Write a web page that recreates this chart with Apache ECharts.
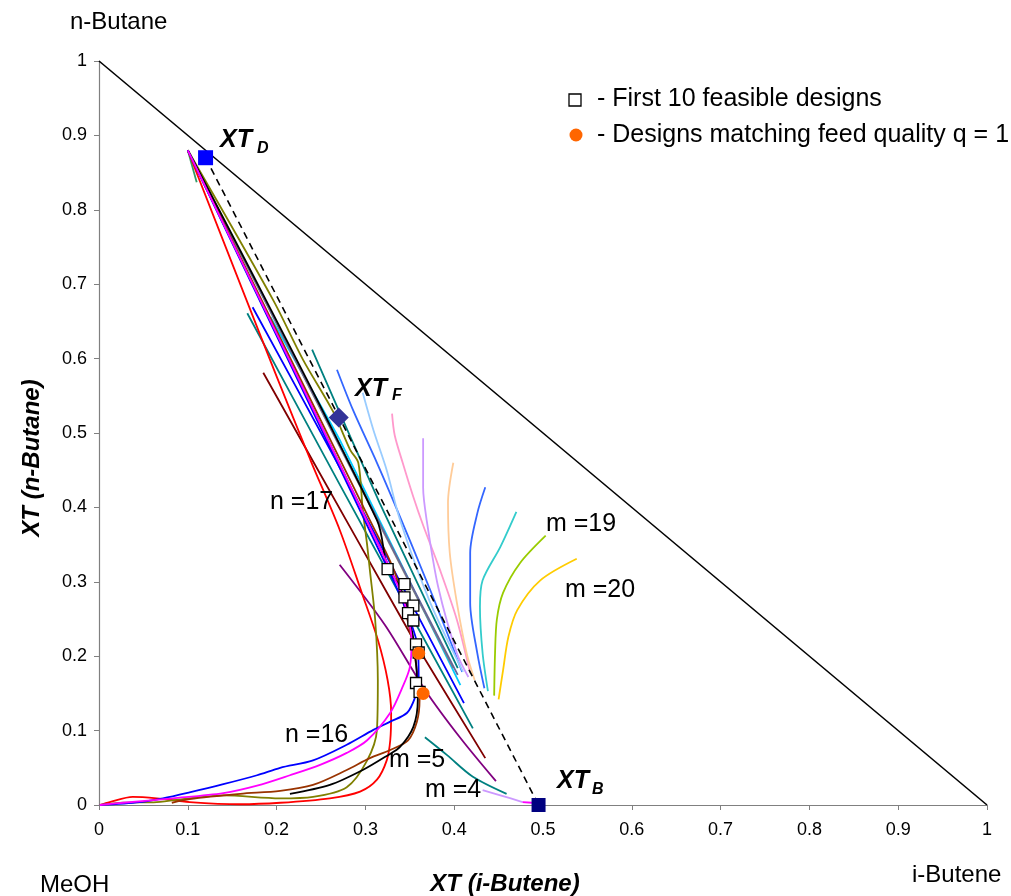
<!DOCTYPE html>
<html>
<head>
<meta charset="utf-8">
<script src="https://cdn.jsdelivr.net/npm/echarts/dist/echarts.min.js"></script>
<style>
  html, body { margin: 0; padding: 0; background: #fff; }
  #chart { width: 1011px; height: 896px; }
</style>
</head>
<body>
<div id="chart"></div>
<script>
// ---- Composition data (mole fractions on the reactive transformed triangle) ----
const axisTicks = [0, 0.1, 0.2, 0.3, 0.4, 0.5, 0.6, 0.7, 0.8, 0.9, 1];

const xtD = [0.12, 0.87];
const xtF = [0.27, 0.521];
const xtB = [0.495, 0.0];

// Designs found along the profile intersection
const feasibleDesigns = [
  [0.325, 0.317], [0.344, 0.297], [0.344, 0.279], [0.354, 0.268], [0.348, 0.258],
  [0.354, 0.248], [0.357, 0.216], [0.360, 0.205], [0.357, 0.164], [0.361, 0.152]
];
const feedQualityDesigns = [[0.360, 0.204], [0.365, 0.150]];

// Rectifying profiles that sweep back to the MeOH corner
const redProfile = [
  [0.100, 0.880], [0.166, 0.679], [0.200, 0.576], [0.238, 0.464], [0.271, 0.370],
  [0.296, 0.285], [0.314, 0.222], [0.325, 0.168], [0.329, 0.124], [0.328, 0.087],
  [0.324, 0.060], [0.313, 0.034], [0.294, 0.018], [0.260, 0.009], [0.204, 0.003],
  [0.159, 0.001], [0.102, 0.004], [0.065, 0.009], [0.038, 0.011], [0.012, 0.004], [0.001, 0.000]
];
const blueProfile = [
  [0.100, 0.880], [0.333, 0.298], [0.350, 0.249], [0.359, 0.212], [0.360, 0.168],
  [0.356, 0.145], [0.347, 0.124], [0.328, 0.112], [0.309, 0.101], [0.279, 0.081],
  [0.241, 0.060], [0.204, 0.050], [0.178, 0.040], [0.140, 0.028], [0.102, 0.017],
  [0.072, 0.009], [0.046, 0.004], [0.001, 0.000]
];
const magentaProfile = [
  [0.100, 0.880], [0.339, 0.289], [0.347, 0.258], [0.352, 0.222], [0.350, 0.185],
  [0.342, 0.159], [0.328, 0.124], [0.302, 0.087], [0.279, 0.070], [0.249, 0.054],
  [0.215, 0.040], [0.178, 0.026], [0.140, 0.016], [0.083, 0.009], [0.027, 0.003], [0.001, 0.000]
];
const brownProfile = [
  [0.100, 0.880], [0.305, 0.383], [0.333, 0.313], [0.350, 0.235], [0.358, 0.181],
  [0.361, 0.141], [0.358, 0.112], [0.348, 0.087], [0.328, 0.074], [0.305, 0.063],
  [0.279, 0.047], [0.241, 0.027], [0.204, 0.019], [0.159, 0.015], [0.102, 0.008], [0.082, 0.003]
];
const blackProfile = [
  [0.100, 0.880], [0.313, 0.383], [0.325, 0.317], [0.339, 0.293], [0.350, 0.249],
  [0.356, 0.204], [0.359, 0.141], [0.354, 0.105], [0.339, 0.078], [0.324, 0.066],
  [0.297, 0.047], [0.260, 0.027], [0.215, 0.015]
];
const oliveProfile = [
  [0.100, 0.880], [0.196, 0.679], [0.230, 0.598], [0.264, 0.528], [0.283, 0.477],
  [0.292, 0.460], [0.297, 0.397], [0.302, 0.349], [0.305, 0.316], [0.311, 0.249],
  [0.314, 0.168], [0.313, 0.101], [0.302, 0.060], [0.279, 0.024], [0.241, 0.011],
  [0.204, 0.009], [0.140, 0.013], [0.102, 0.009], [0.065, 0.004], [0.027, 0.003], [0.001, 0.000]
];

// Rectifying profiles ending in the design region
const violetBundle = [[0.100, 0.880], [0.343, 0.280], [0.354, 0.247]];
const slateBundle = [[0.100, 0.880], [0.404, 0.175]];
const grayBundle = [[0.100, 0.880], [0.399, 0.184]];
const greenStub = [[0.100, 0.880], [0.110, 0.837]];

// Partial profiles crossing the bundle
const tealLeft = [[0.167, 0.661], [0.271, 0.431], [0.421, 0.103]];
const blueLeft = [[0.173, 0.669], [0.271, 0.454], [0.411, 0.137]];
const cyanLeft = [[0.193, 0.656], [0.271, 0.491], [0.407, 0.161]];
const maroonLeft = [[0.185, 0.581], [0.291, 0.356], [0.361, 0.208], [0.435, 0.063]];
const tealRight = [[0.240, 0.612], [0.316, 0.406], [0.404, 0.184]];
const purpleLine = [[0.271, 0.323], [0.322, 0.242], [0.367, 0.155], [0.407, 0.090], [0.447, 0.032]];

// Stripping profiles (m stages)
const tealM5 = [[0.367, 0.091], [0.392, 0.067], [0.421, 0.038], [0.459, 0.015]];
const lilacM4 = [[0.432, 0.020], [0.452, 0.013], [0.477, 0.004]];
const magentaM4 = [[0.477, 0.004], [0.488, 0.003]];
const fanRoyal1 = [[0.268, 0.585], [0.286, 0.531], [0.313, 0.460], [0.331, 0.410], [0.373, 0.289], [0.409, 0.179]];
const fanLightBlue = [[0.297, 0.554], [0.309, 0.504], [0.324, 0.450], [0.339, 0.383], [0.373, 0.272], [0.410, 0.179]];
const fanPink = [[0.330, 0.526], [0.333, 0.497], [0.342, 0.460], [0.354, 0.414], [0.365, 0.376], [0.384, 0.316], [0.403, 0.249], [0.418, 0.177]];
const fanViolet = [[0.365, 0.493], [0.365, 0.427], [0.369, 0.383], [0.382, 0.293], [0.403, 0.204], [0.416, 0.172]];
const fanPeach = [[0.399, 0.460], [0.393, 0.406], [0.395, 0.339], [0.403, 0.272], [0.414, 0.204], [0.423, 0.168]];
const fanRoyal2 = [[0.435, 0.427], [0.426, 0.392], [0.418, 0.339], [0.418, 0.272], [0.426, 0.204], [0.434, 0.157]];
const fanTeal = [[0.470, 0.394], [0.452, 0.347], [0.432, 0.302], [0.429, 0.266], [0.432, 0.204], [0.438, 0.153]];
const fanGreen = [[0.503, 0.362], [0.474, 0.325], [0.455, 0.285], [0.448, 0.249], [0.446, 0.204], [0.445, 0.147]];
const fanGold = [[0.538, 0.331], [0.497, 0.302], [0.471, 0.262], [0.461, 0.226], [0.455, 0.181], [0.450, 0.142]];

// Triangle edge from pure n-Butane to pure i-Butene
const hypotenuse = [[0, 1], [1, 0]];

// ---- Chart ----
const FONT = '"Liberation Sans", Arial, sans-serif';

function curve(data, color, smooth) {
  return {
    type: 'line', data: data, symbol: 'none', showSymbol: false, silent: true,
    smooth: smooth === undefined ? 0.3 : smooth,
    lineStyle: { color: color, width: 1.8, opacity: 1 }, z: 2
  };
}

const series = [
  curve(fanRoyal1, '#3366FF'), curve(fanLightBlue, '#99CCFF'), curve(fanPink, '#FF99CC'),
  curve(fanViolet, '#CC99FF'), curve(fanPeach, '#FFCC99'), curve(fanRoyal2, '#3366FF'),
  curve(fanTeal, '#33CCCC'), curve(fanGreen, '#99CC00'), curve(fanGold, '#FFCC00'),
  curve(tealM5, '#008080'), curve(lilacM4, '#CC99FF'), curve(magentaM4, '#FF00FF'),
  curve(tealLeft, '#008080', 0.1), curve(blueLeft, '#0000FF', 0.1), curve(cyanLeft, '#00CCFF', 0.1),
  curve(maroonLeft, '#800000', 0.1), curve(tealRight, '#008080', 0.1), curve(purpleLine, '#800080'),
  curve(grayBundle, '#808080'), curve(slateBundle, '#666699'), curve(greenStub, '#339966'),
  curve(violetBundle, '#6600CC'),
  curve(redProfile, '#FF0000'), curve(oliveProfile, '#808000'), curve(brownProfile, '#993300'),
  curve(blackProfile, '#000000'), curve(blueProfile, '#0000FF'), curve(magentaProfile, '#FF00FF'),
  {
    type: 'line', data: [xtD, xtB], symbol: 'none', silent: true, z: 3,
    lineStyle: { color: '#000', width: 1.6, type: [7, 5] }
  },
  {
    type: 'line', data: hypotenuse, symbol: 'none', silent: true, z: 3,
    lineStyle: { color: '#000', width: 1.6 }
  },
  {
    type: 'scatter', data: feasibleDesigns, symbol: 'rect', symbolSize: 11, silent: true, z: 5,
    itemStyle: { color: '#fff', borderColor: '#000', borderWidth: 1.3, opacity: 1 }
  },
  {
    type: 'scatter', data: feedQualityDesigns, symbol: 'circle', symbolSize: 13, silent: true, z: 6,
    itemStyle: { color: '#FF6600', opacity: 1 }
  },
  { type: 'scatter', data: [xtD], symbol: 'rect', symbolSize: 15, silent: true, z: 6, itemStyle: { color: '#0000FF', opacity: 1 } },
  { type: 'scatter', data: [xtF], symbol: 'diamond', symbolSize: [20, 20], silent: true, z: 6, itemStyle: { color: '#333399', opacity: 1 } },
  { type: 'scatter', data: [xtB], symbol: 'rect', symbolSize: 14, silent: true, z: 6, itemStyle: { color: '#000080', opacity: 1 } }
];

function txt(text, x, y, size, extra) {
  return {
    type: 'text', x: x, y: y, z: 20, silent: true,
    style: Object.assign({
      text: text, font: size + 'px ' + FONT, fill: '#000',
      textAlign: 'left', textVerticalAlign: 'middle'
    }, extra || {})
  };
}
function bi(text, x, y, size, extra) {
  return txt(text, x, y, size, Object.assign({ font: 'italic bold ' + size + 'px ' + FONT }, extra || {}));
}

const graphics = [
  txt('n-Butane', 70, 22, 24),
  txt('MeOH', 40, 885, 24),
  txt('i-Butene', 912, 875, 24),
  bi('XT (i-Butene)', 505, 884, 24, { textAlign: 'center' }),
  Object.assign(bi('XT (n-Butane)', 0, 0, 24, { textAlign: 'center' }), { x: 32, y: 458, rotation: Math.PI / 2 }),
  bi('XT', 220, 140, 25), bi('D', 257, 149, 16),
  bi('XT', 355, 389, 25), bi('F', 392, 396, 16),
  bi('XT', 557, 781, 25), bi('B', 592, 790, 16),
  txt('n =17', 270, 502, 25),
  txt('n =16', 285, 735, 25),
  txt('m =5', 389, 760, 25),
  txt('m =4', 425, 790, 25),
  txt('m =19', 546, 524, 25),
  txt('m =20', 565, 590, 25),
  {
    type: 'rect', z: 20, silent: true,
    shape: { x: 569, y: 94, width: 12, height: 12 },
    style: { fill: '#fff', stroke: '#000', lineWidth: 1.3 }
  },
  { type: 'circle', z: 20, silent: true, shape: { cx: 576, cy: 135, r: 6.5 }, style: { fill: '#FF6600' } },
  txt('- First 10 feasible designs', 597, 99, 25),
  txt('- Designs matching feed quality q = 1', 597, 135, 25)
];

const axisCommon = {
  type: 'value', min: axisTicks[0], max: axisTicks[axisTicks.length - 1], interval: 0.1,
  splitLine: { show: false },
  axisLine: { show: true, lineStyle: { color: '#808080', width: 1.2 } },
  axisTick: { show: true, length: 5, lineStyle: { color: '#808080' } },
  axisLabel: { color: '#000', fontSize: 18, fontFamily: FONT, margin: 10 }
};

const chart = echarts.init(document.getElementById('chart'), null, { renderer: 'canvas' });
chart.setOption({
  animation: false,
  backgroundColor: '#fff',
  grid: { left: 99, right: 24, top: 61, bottom: 91, containLabel: false },
  xAxis: Object.assign({}, axisCommon, { axisLabel: Object.assign({}, axisCommon.axisLabel, { margin: 16 }) }),
  yAxis: Object.assign({}, axisCommon, { axisLabel: Object.assign({}, axisCommon.axisLabel, { margin: 12 }) }),
  series: series,
  graphic: graphics
});
</script>
</body>
</html>
